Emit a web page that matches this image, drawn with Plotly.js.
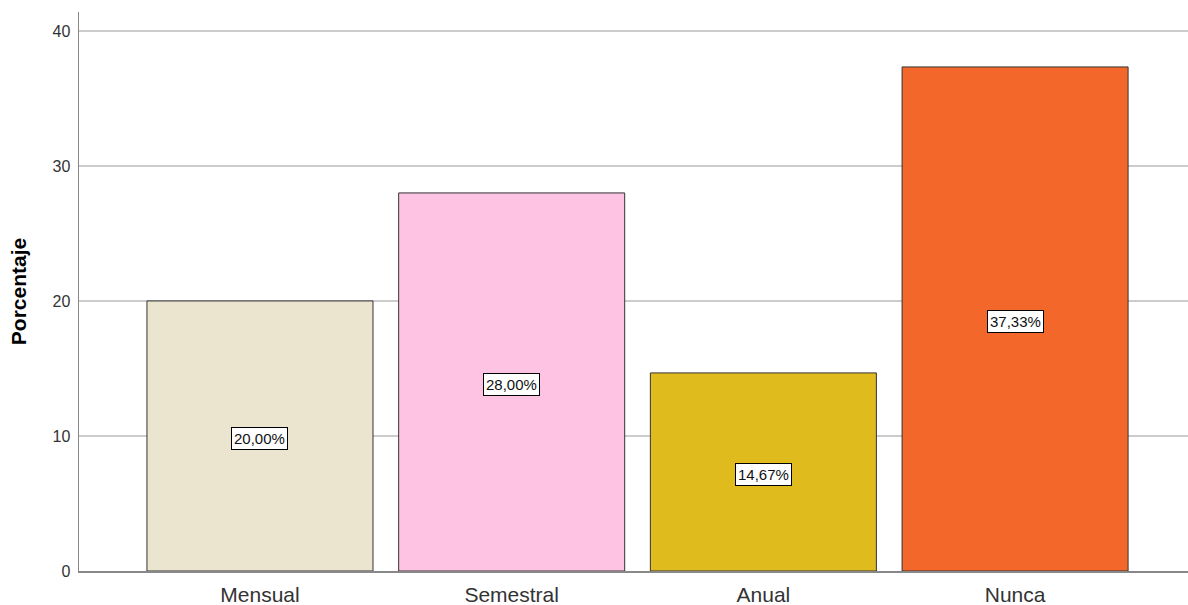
<!DOCTYPE html>
<html>
<head>
<meta charset="utf-8">
<script src="https://cdn.plot.ly/plotly-3.0.1.min.js"></script>
<style>html,body{margin:0;padding:0;background:#fff;}#chart{width:1188px;height:605px;}</style>
</head>
<body>
<div id="chart"></div>
<script>
const categories = ["Mensual", "Semestral", "Anual", "Nunca"];
const values = [20.00, 28.00, 14.67, 37.33];
const labels = ["20,00%", "28,00%", "14,67%", "37,33%"];
const colors = ["#EBE5D0", "#FEC3E2", "#E0BB1E", "#F3672A"];
const yTicks = [0, 10, 20, 30, 40];

const FONT = "Arial, Liberation Sans, sans-serif";

const trace = {
  type: "bar",
  x: categories,
  y: values,
  width: 0.898,
  marker: {color: colors, line: {color: "#333333", width: 1}},
  hoverinfo: "none"
};

const annotations = categories.map((c, i) => ({
  x: c, y: values[i] / 2, xref: "x", yref: "y",
  text: labels[i], showarrow: false, yshift: -3,
  bgcolor: "#ffffff", bordercolor: "#000000", borderwidth: 1, borderpad: 2,
  font: {family: FONT, size: 15, color: "#111"}
}));

const layout = {
  width: 1188, height: 605,
  margin: {l: 79, r: 0, t: 12, b: 34},
  paper_bgcolor: "#ffffff", plot_bgcolor: "#ffffff",
  showlegend: false,
  xaxis: {
    range: [-0.719, 3.687],
    showgrid: false, zeroline: false,
    showline: true, linecolor: "#888888", linewidth: 1.5,
    ticks: "", ticklabelstandoff: 4,
    tickfont: {family: FONT, size: 21, color: "#333"},
    fixedrange: true
  },
  yaxis: {
    range: [0, 41.4],
    tickvals: yTicks, ticktext: yTicks.map(String),
    showgrid: true, gridcolor: "#cccccc", gridwidth: 1.5,
    zeroline: false, showline: true, linecolor: "#888888", linewidth: 1.5,
    ticks: "", ticklabelstandoff: 4,
    tickfont: {family: FONT, size: 16, color: "#333"},
    title: {text: "<b>Porcentaje</b>", standoff: 20, font: {family: FONT, size: 21, color: "#000"}},
    fixedrange: true
  },
  annotations: annotations
};

Plotly.newPlot("chart", [trace], layout, {displayModeBar: false, staticPlot: true});
</script>
</body>
</html>
